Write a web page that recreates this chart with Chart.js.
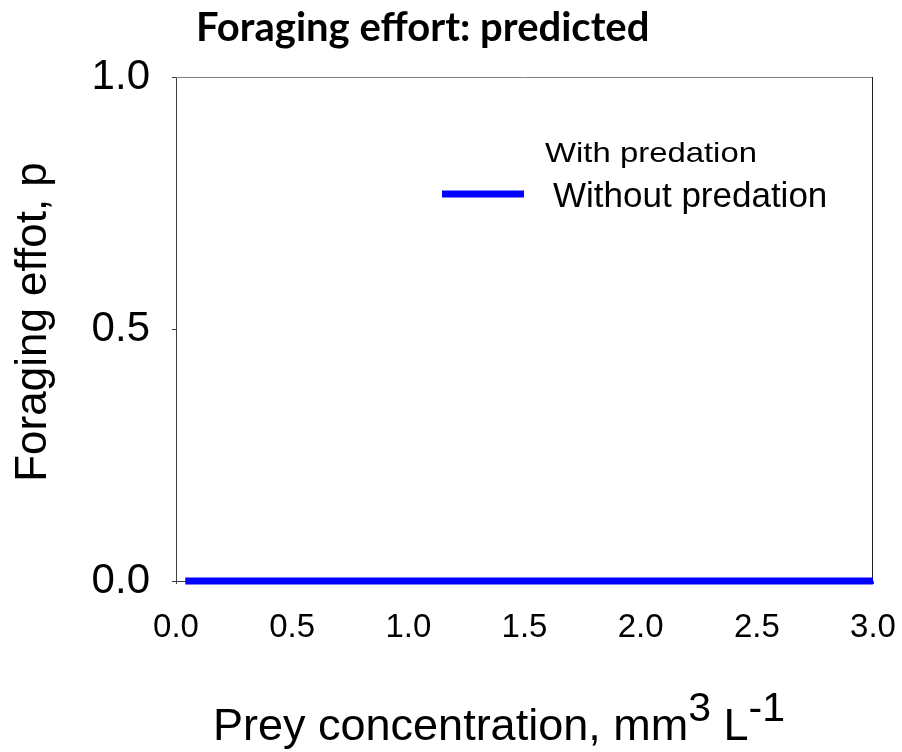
<!DOCTYPE html>
<html>
<head>
<meta charset="utf-8">
<script src="https://cdn.jsdelivr.net/npm/chart.js@4/dist/chart.umd.min.js"></script>
<style>
  html, body { margin: 0; padding: 0; background: #fff; }
  #wrap { width: 902px; height: 752px; }
</style>
</head>
<body>
<div id="wrap"><canvas id="chart" width="902" height="752"></canvas></div>
<script>
const preyConc = [0.04, 3.0];
const effortWithout = [0, 0];
const effortWith = [];
const xTicks = [0, 0.5, 1.0, 1.5, 2.0, 2.5, 3.0];
const yTicks = [0, 0.5, 1.0];

const titleText = "Foraging effort: predicted";
const yTitle = "Foraging effot, p";

const SANS = "'Liberation Sans', Arial, sans-serif";

// box round the plot, titles and the in-plot legend
const decorations = {
  id: "decorations",
  beforeDatasetsDraw(chart) {
    const { ctx, chartArea: a } = chart;
    ctx.save();
    ctx.lineWidth = 1;
    ctx.strokeStyle = "#808080";
    ctx.beginPath();
    ctx.moveTo(a.left, a.top + 0.5);
    ctx.lineTo(a.right, a.top + 0.5);
    ctx.stroke();
    ctx.strokeStyle = "#202020";
    ctx.beginPath();
    ctx.moveTo(a.right - 0.5, a.top);
    ctx.lineTo(a.right - 0.5, a.bottom);
    ctx.stroke();
    ctx.restore();
  },
  afterDraw(chart) {
    const { ctx } = chart;
    ctx.save();
    ctx.fillStyle = "#000";
    ctx.textBaseline = "alphabetic";

    // main title
    ctx.font = "bold 40px Lato, 'Open Sans', sans-serif";
    ctx.textAlign = "left";
    ctx.fillText(titleText, 196, 41);

    // y axis title
    ctx.save();
    ctx.translate(46, 322);
    ctx.rotate(-Math.PI / 2);
    ctx.font = "44px " + SANS;
    ctx.textAlign = "center";
    ctx.fillText(yTitle, 0, 0);
    ctx.restore();

    // x axis title with superscripts
    const parts = [
      { t: "Prey concentration, mm", size: 45, dy: 0 },
      { t: "3", size: 41, dy: -19 },
      { t: " L", size: 45, dy: 0 },
      { t: "-1", size: 41, dy: -19 }
    ];
    let x = 213;
    ctx.textAlign = "left";
    parts.forEach(p => {
      ctx.font = p.size + "px " + SANS;
      ctx.fillText(p.t, x, 740 + p.dy);
      x += ctx.measureText(p.t).width;
    });

    // legend: first entry has no line and a stretched smaller label
    const ds = chart.data.datasets;
    ctx.font = "28px " + SANS;
    const w0 = ctx.measureText(ds[0].label).width;
    ctx.save();
    ctx.translate(545, 162);
    ctx.scale(212 / w0, 1);
    ctx.fillText(ds[0].label, 0, 0);
    ctx.restore();

    ctx.font = "35px " + SANS;
    ctx.fillText(ds[1].label, 553, 207);
    ctx.strokeStyle = ds[1].borderColor;
    ctx.lineWidth = ds[1].borderWidth;
    ctx.beginPath();
    ctx.moveTo(442, 194);
    ctx.lineTo(524, 194);
    ctx.stroke();
    ctx.restore();
  }
};

new Chart(document.getElementById("chart"), {
  type: "line",
  data: {
    datasets: [
      {
        label: "With predation",
        data: effortWith.map((v, i) => ({ x: preyConc[i], y: v })),
        borderColor: "#ff0000",
        borderWidth: 7,
        pointRadius: 0
      },
      {
        label: "Without predation",
        data: effortWithout.map((v, i) => ({ x: preyConc[i], y: v })),
        borderColor: "#0000ff",
        borderWidth: 7,
        pointRadius: 0,
        clip: false
      }
    ]
  },
  options: {
    animation: false,
    responsive: false,
    layout: { padding: { top: 77, right: 29, left: 0, bottom: 0 } },
    plugins: {
      legend: { display: false },
      title: { display: false },
      tooltip: { enabled: false }
    },
    scales: {
      x: {
        type: "linear",
        min: 0,
        max: 3,
        afterBuildTicks: s => { s.ticks = xTicks.map(v => ({ value: v })); },
        afterFit: s => { s.height = 171; s.paddingLeft = 0; s.paddingRight = 0; },
        border: { display: true, color: "#404040", width: 1 },
        grid: { drawOnChartArea: false, drawTicks: true, tickLength: 3, color: "#404040" },
        ticks: {
          color: "#000",
          padding: 24,
          maxRotation: 0,
          font: { family: SANS, size: 33 },
          callback: v => v.toFixed(1)
        }
      },
      y: {
        min: 0,
        max: 1,
        afterBuildTicks: s => { s.ticks = yTicks.map(v => ({ value: v })); },
        afterFit: s => { s.width = 176; s.paddingTop = 0; s.paddingBottom = 0; },
        border: { display: true, color: "#404040", width: 1 },
        grid: { drawOnChartArea: false, drawTicks: true, tickLength: 4, color: "#404040" },
        ticks: {
          color: "#000",
          padding: 22,
          font: { family: SANS, size: 42 },
          callback: v => v.toFixed(1)
        }
      }
    }
  },
  plugins: [decorations]
});
</script>
</body>
</html>
